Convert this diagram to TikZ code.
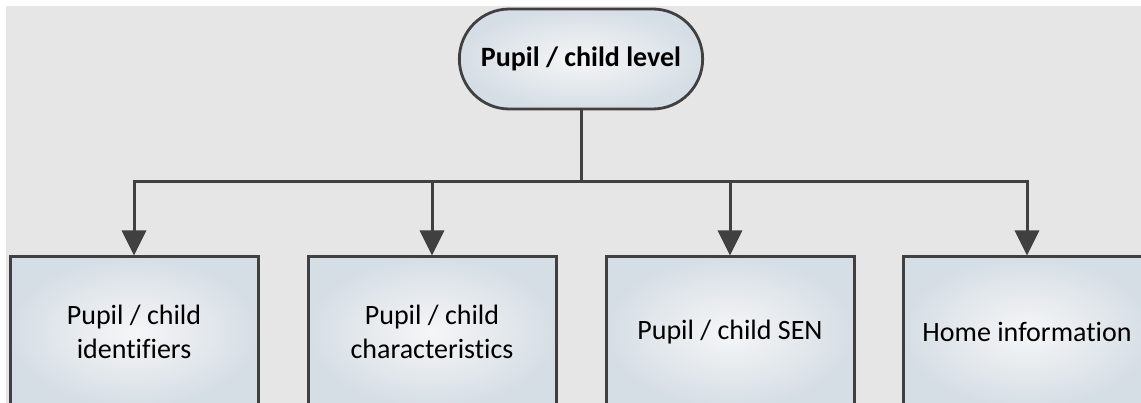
\documentclass[tikz,border=0pt]{standalone}
\usepackage{fontspec}
\setmainfont{Carlito}[Ligatures=NoCommon]
\usetikzlibrary{arrows.meta,shapes.misc}
\definecolor{bg}{RGB}{230,230,230}
\definecolor{ln}{RGB}{64,64,64}
\definecolor{edgec}{RGB}{214,222,229}
\definecolor{midc}{RGB}{245,246,247}
\begin{document}
\begin{tikzpicture}[x=1pt,y=-1pt,
  ov/.style={rounded rectangle, draw=ln, line width=2.8pt, inner color=midc, outer color=edgec,
    minimum width=250pt, minimum height=100pt, font=\fontsize{28}{34}\selectfont\bfseries},
  box/.style={rectangle, draw=ln, line width=3pt, inner color=midc, outer color=edgec,
    minimum width=248pt, minimum height=150pt, align=center, font=\fontsize{28}{34}\selectfont},
  conn/.style={draw=ln, line width=3pt},
  arr/.style={conn, -{Triangle[length=25pt,width=24pt]}}]
\useasboundingbox (0,0) rectangle (1141,403);
\clip (0,0) rectangle (1141,403);
\fill[white] (0,0) rectangle (1141,403);
\fill[bg] (6,6) rectangle (1141,403);
\node[ov] (top) at (581,59) {Pupil / child level};
\node[box] (b1) at (134,332) {Pupil / child\\identifiers};
\node[box] (b2) at (432,332) {Pupil / child\\characteristics};
\node[box] (b3) at (730,332) {Pupil / child SEN};
\node[box] (b4) at (1027,332) {Home information};
\coordinate (j) at (581,182);
\draw[conn] (top.south) -- (j);
\draw[arr] (j) -| (b1.north);
\draw[arr] (j) -| (b2.north);
\draw[arr] (j) -| (b3.north);
\draw[arr] (j) -| (b4.north);
\end{tikzpicture}
\end{document}
